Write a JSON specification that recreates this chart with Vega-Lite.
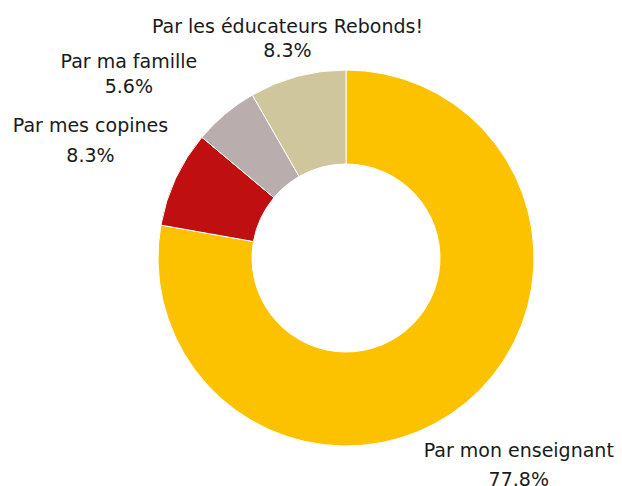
{
  "$schema": "https://vega.github.io/schema/vega-lite/v6.json",
  "width": 692,
  "height": 516,
  "autosize": {"type": "none"},
  "padding": 0,
  "background": "white",
  "view": {"stroke": null},
  "config": {"text": {"font": "DejaVu Sans", "fontSize": 19, "color": "#1a1a1a", "lineBreak": "\n", "lineHeight": 25, "align": "center", "baseline": "middle"}},
  "data": {"values": [
    {"category": "Par mon enseignant", "value": 77.8},
    {"category": "Par mes copines", "value": 8.3},
    {"category": "Par ma famille", "value": 5.6},
    {"category": "Par les éducateurs Rebonds!", "value": 8.3}
  ]},
  "transform": [
    {"window": [{"op": "row_number", "as": "idx"}]},
    {"calculate": "datum.category + '\\n' + format(datum.value, '.1f') + '%'", "as": "label"}
  ],
  "encoding": {
    "theta": {"field": "value", "type": "quantitative", "stack": true},
    "order": {"field": "idx", "type": "quantitative"}
  },
  "layer": [
    {
      "mark": {"type": "arc", "outerRadius": 188, "innerRadius": 94, "stroke": "white", "strokeWidth": 1},
      "encoding": {
        "color": {"field": "category", "type": "nominal", "legend": null,
          "scale": {"domain": ["Par mon enseignant", "Par mes copines", "Par ma famille", "Par les éducateurs Rebonds!"],
                    "range": ["#FCC200", "#C00F10", "#BAADAD", "#D0C69E"]}}
      }
    },
    {
      "mark": {"type": "text", "radius": 269, "dy": -13, "lineHeight": 29},
      "encoding": {
        "detail": {"field": "category", "type": "nominal"},
        "text": {"condition": {"test": "datum.category === 'Par mon enseignant'", "field": "label"}, "value": ""}
      }
    },
    {
      "mark": {"type": "text", "radius": 282, "dy": -13, "lineHeight": 30},
      "encoding": {
        "detail": {"field": "category", "type": "nominal"},
        "text": {"condition": {"test": "datum.category === 'Par mes copines'", "field": "label"}, "value": ""}
      }
    },
    {
      "mark": {"type": "text", "radius": 240, "dx": -63, "dy": -12, "lineHeight": 25},
      "encoding": {
        "detail": {"field": "category", "type": "nominal"},
        "text": {"condition": {"test": "datum.category === 'Par ma famille'", "field": "label"}, "value": ""}
      }
    },
    {
      "mark": {"type": "text", "radius": 227, "dy": -12, "lineHeight": 24},
      "encoding": {
        "detail": {"field": "category", "type": "nominal"},
        "text": {"condition": {"test": "datum.category === 'Par les éducateurs Rebonds!'", "field": "label"}, "value": ""}
      }
    }
  ]
}
